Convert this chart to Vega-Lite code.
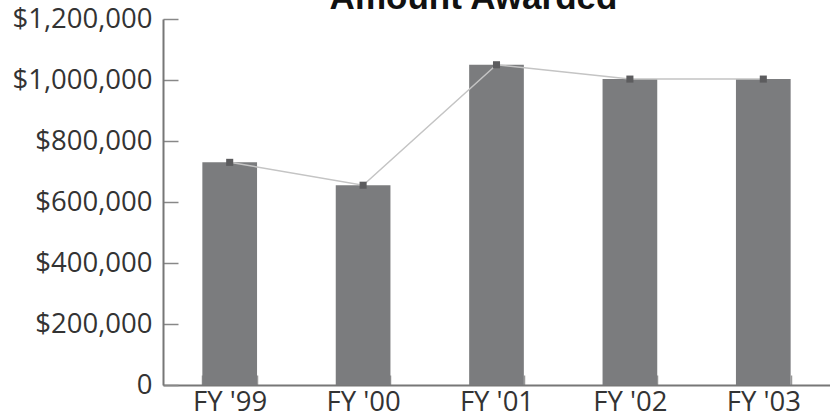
{
  "$schema": "https://vega.github.io/schema/vega-lite/v6.json",
  "width": 667,
  "height": 366,
  "autosize": {"type": "none"},
  "padding": {"left": 163, "top": 19, "right": 0, "bottom": 35},
  "background": "white",
  "title": {
    "text": "Amount Awarded",
    "font": "Liberation Sans",
    "fontSize": 35,
    "fontWeight": "bold",
    "color": "#111111",
    "baseline": "alphabetic",
    "offset": 0,
    "dy": 39,
    "anchor": "middle",
    "dx": -23
  },
  "data": {
    "values": [
      {"year": "FY '99", "amount": 730000},
      {"year": "FY '00", "amount": 655000},
      {"year": "FY '01", "amount": 1050000},
      {"year": "FY '02", "amount": 1003000},
      {"year": "FY '03", "amount": 1003000}
    ]
  },
  "encoding": {
    "x": {
      "field": "year",
      "type": "nominal",
      "sort": null,
      "scale": {"paddingInner": 0.59, "paddingOuter": 0.295},
      "axis": {
        "title": null,
        "labelAngle": 0,
        "labelFont": "Open Sans",
        "labelFontSize": 27.5,
        "labelColor": "#333333",
        "labelPadding": 13,
        "domainColor": "#777777",
        "domainWidth": 2,
        "tickColor": "#999999",
        "tickSize": -10,
        "tickWidth": 1.5,
        "tickBand": "extent",
        "grid": false
      }
    },
    "y": {
      "field": "amount",
      "type": "quantitative",
      "scale": {"domain": [0, 1200000], "nice": false},
      "axis": {
        "title": null,
        "values": [0, 200000, 400000, 600000, 800000, 1000000, 1200000],
        "labelExpr": "datum.value == 0 ? '0' : format(datum.value, '$,')",
        "labelFont": "Open Sans",
        "labelFontSize": 27.5,
        "labelColor": "#333333",
        "labelPadding": 26,
        "domainColor": "#777777",
        "domainWidth": 2,
        "tickColor": "#888888",
        "tickSize": -15,
        "tickWidth": 1.5,
        "grid": false
      }
    }
  },
  "layer": [
    {"mark": {"type": "bar", "color": "#7b7c7e"}},
    {"mark": {"type": "line", "color": "#c4c4c4", "strokeWidth": 1.5}},
    {"mark": {"type": "point", "shape": "square", "filled": true, "size": 50, "color": "#5c5c5e", "opacity": 1}}
  ],
  "config": {"view": {"stroke": null}}
}
